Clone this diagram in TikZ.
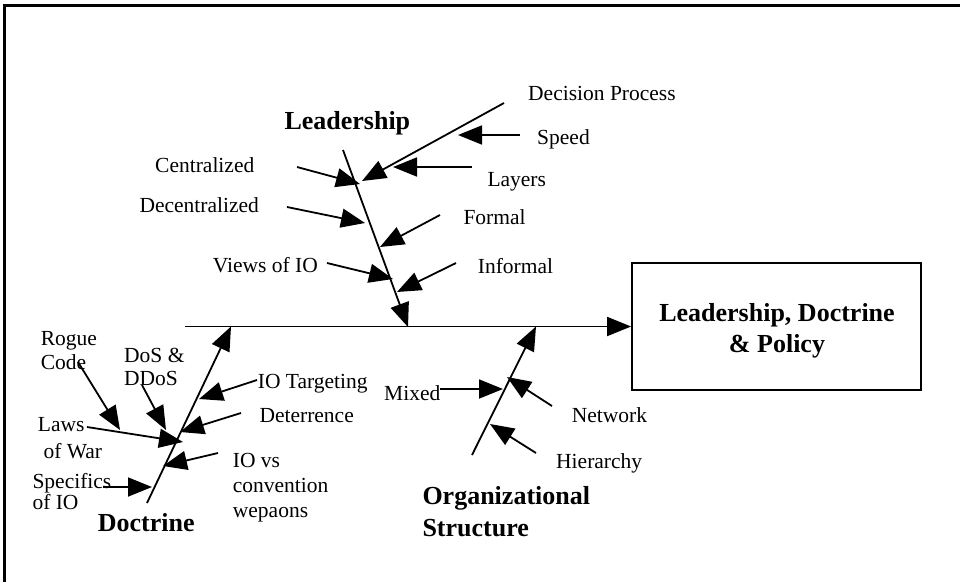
\documentclass[tikz,border=0pt]{standalone}
\usepackage{fontspec}
\setmainfont{Liberation Serif}
\usetikzlibrary{arrows.meta}
\begin{document}
\begin{tikzpicture}[x=1pt,y=-1pt,
  lbl/.style={inner sep=0pt, anchor=base west, font=\fontsize{21.5}{24}\selectfont},
  blbl/.style={inner sep=0pt, anchor=base west, font=\fontsize{26}{31}\selectfont\bfseries},
  arr/.style={line width=1.8pt, -{Triangle[length=24pt,width=19pt]}},
  ln/.style={line width=1.8pt}]
\useasboundingbox (0,0) rectangle (960,582);
% outer frame
\draw[line width=3pt] (4.5,582) -- (4.5,5.5) -- (960,5.5);

% effect box
\node[draw, line width=1.8pt, minimum width=289pt, minimum height=127pt, inner sep=0pt] (box) at (776.5,326.5) {};
\node[blbl, anchor=base] (box1) at (777,321.7) {Leadership, Doctrine};
\node[blbl, anchor=base] (box2) at (777,352.7) {\& Policy};

% labels
\node[blbl] (leadership) at (284.3,129.3) {Leadership};
\node[lbl] (decproc) at (528,100.5) {Decision Process};
\node[lbl] (speed) at (537,144) {Speed};
\node[lbl] (layers) at (487.3,186) {Layers};
\node[lbl] (formal) at (463.3,224) {Formal};
\node[lbl] (informal) at (477.7,273) {Informal};
\node[lbl] (central) at (155,172.7) {Centralized};
\node[lbl] (decentral) at (139.3,212.7) {Decentralized};
\node[lbl] (views) at (212.7,272.7) {Views of IO};

\node[lbl] (rogue1) at (40.7,345) {Rogue};
\node[lbl] (rogue2) at (40.7,369.3) {Code};
\node[lbl] (dos1) at (124,362.7) {DoS \&};
\node[lbl] (dos2) at (124,385.3) {DDoS};
\node[lbl] (iotarget) at (257.7,388) {IO Targeting};
\node[lbl] (deter) at (259.3,422.7) {Deterrence};
\node[lbl] (iovs1) at (232.7,467.7) {IO vs};
\node[lbl] (iovs2) at (232.7,492.7) {convention};
\node[lbl] (iovs3) at (232.7,517) {wepaons};
\node[lbl] (laws1) at (37.7,431) {Laws};
\node[lbl] (laws2) at (43.3,458.3) {of War};
\node[lbl] (spec1) at (32.3,488.3) {Specifics};
\node[lbl] (spec2) at (32.3,509.3) {of IO};
\node[blbl] (doctrine) at (97.7,531.7) {Doctrine};

\node[lbl] (mixed) at (384,400) {Mixed};
\node[lbl] (network) at (571.7,422.7) {Network};
\node[lbl] (hier) at (556,468.3) {Hierarchy};
\node[blbl] (org1) at (422.3,504) {Organizational};
\node[blbl] (org2) at (422.3,536) {Structure};

% coordinates
\coordinate (mainS) at (185,326.5);
\coordinate (ldTop) at (343,150);
\coordinate (ldEnd) at (408,327);
\coordinate (dcBot) at (147,503);
\coordinate (dcEnd) at (231,326.5);
\coordinate (orBot) at (472,455);
\coordinate (orEnd) at (536,326.5);

\coordinate (cS) at (297,167);   \coordinate (cE) at (360,184);
\coordinate (dS) at (287,207);   \coordinate (dE) at (365,223);
\coordinate (vS) at (327,263);   \coordinate (vE) at (393,279);
\coordinate (dpS) at (504,103);  \coordinate (dpE) at (362,181);
\coordinate (spS) at (520,135);  \coordinate (spE) at (458,135);
\coordinate (lyS) at (472,167);  \coordinate (lyE) at (393,167);
\coordinate (fS) at (440,215);   \coordinate (fE) at (380,247);
\coordinate (iS) at (456,263);   \coordinate (iE) at (397,292);

\coordinate (tS) at (257,380);   \coordinate (tE) at (199,399);
\coordinate (deS) at (241,413);  \coordinate (deE) at (180,432);
\coordinate (ivS) at (218,453);  \coordinate (ivE) at (163,466);
\coordinate (spcS) at (103,487); \coordinate (spcE) at (152,487);
\coordinate (lwS) at (87,427);   \coordinate (lwE) at (183,442);
\coordinate (rgS) at (78,362);   \coordinate (rgE) at (120,430);
\coordinate (dsS) at (142,385);  \coordinate (dsE) at (166,430);

\coordinate (mxS) at (440,389);  \coordinate (mxE) at (503,389);
\coordinate (nwS) at (552,406);  \coordinate (nwE) at (507,377);
\coordinate (hiS) at (536,453);  \coordinate (hiE) at (490,424);

% spine and bones
\draw[arr] (mainS) -- (box.west);
\draw[arr] (ldTop) -- (ldEnd);
\draw[arr] (dcBot) -- (dcEnd);
\draw[arr] (orBot) -- (orEnd);

\draw[arr] (cS) -- (cE);
\draw[arr] (dS) -- (dE);
\draw[arr] (vS) -- (vE);
\draw[arr] (dpS) -- (dpE);
\draw[arr] (spS) -- (spE);
\draw[arr] (lyS) -- (lyE);
\draw[arr] (fS) -- (fE);
\draw[arr] (iS) -- (iE);

\draw[arr] (tS) -- (tE);
\draw[arr] (deS) -- (deE);
\draw[arr] (ivS) -- (ivE);
\draw[arr] (spcS) -- (spcE);
\draw[arr] (lwS) -- (lwE);
\draw[arr] (rgS) -- (rgE);
\draw[arr] (dsS) -- (dsE);

\draw[arr] (mxS) -- (mxE);
\draw[arr] (nwS) -- (nwE);
\draw[arr] (hiS) -- (hiE);
\end{tikzpicture}
\end{document}
